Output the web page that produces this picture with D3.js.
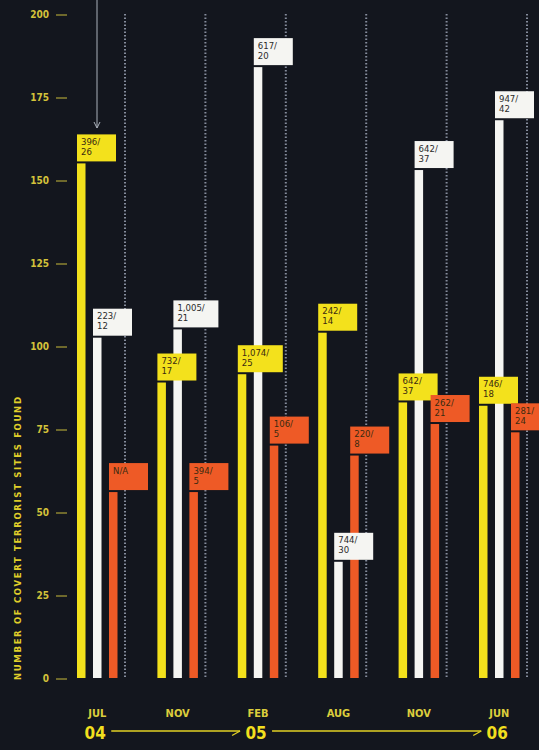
<!DOCTYPE html>
<html><head><meta charset="utf-8">
<script src="https://cdn.jsdelivr.net/npm/d3@7"></script>
<style>
html,body{margin:0;padding:0;background:#13161e;}
svg{display:block;}
text{font-family:"DejaVu Sans Condensed","DejaVu Sans","Liberation Sans",sans-serif;}
</style></head>
<body>
<svg id="c" width="539" height="750"></svg>
<script>
const months = ["JUL","NOV","FEB","AUG","NOV","JUN"];
const years = [{i:0,label:"04"},{i:2,label:"05"},{i:5,label:"06"}];
const yellowValues = [155, 89, 91.5, 104, 83, 82];
const whiteValues  = [102.5, 105, 184, 35, 153, 168];
const orangeValues = [56, 56, 70, 67, 76.5, 74];
const yellowLabels = ["396/26","732/17","1,074/25","242/14","642/37","746/18"];
const whiteLabels  = ["223/12","1,005/21","617/20","744/30","642/37","947/42"];
const orangeLabels = ["N/A","394/5","106/5","220/8","262/21","281/24"];
const yTicks = [0,25,50,75,100,125,150,175,200];
const yTitle = "NUMBER OF COVERT TERRORIST SITES FOUND";

const colors = {yellow:"#f3e11c", white:"#f5f5f2", orange:"#ee5a26"};
const series = [
  {key:"yellow", values:yellowValues, labels:yellowLabels},
  {key:"white", values:whiteValues, labels:whiteLabels},
  {key:"orange", values:orangeValues, labels:orangeLabels}
];

const svg = d3.select("#c");
const y = d3.scaleLinear().domain([0,200]).range([678,14]);
const x = d3.scaleBand().domain(d3.range(months.length)).range([77, 77+6*80.4]).padding(0);
const xs = d3.scaleBand().domain(series.map(s=>s.key)).range([0,48]).padding(0);
const barW = 8.5;

// y axis ticks
const yt = svg.append("g");
yt.selectAll("text").data(yTicks).join("text")
  .attr("x",49).attr("y",d=>y(d)+3.5).attr("text-anchor","end")
  .attr("font-size",10).attr("font-weight","bold").attr("fill","#d3c23a").text(d=>d);
yt.selectAll("line").data(yTicks).join("line")
  .attr("x1",56).attr("x2",67).attr("y1",d=>y(d)+1).attr("y2",d=>y(d)+1)
  .attr("stroke","#c9bb3a").attr("stroke-width",1);

// y title
svg.append("text").attr("transform","translate(21,680) rotate(-90)")
  .attr("font-size",9.5).attr("font-weight","bold").attr("fill","#e0cf2a")
  .attr("textLength",283).attr("lengthAdjust","spacing").text(yTitle);

// dotted separators
svg.append("g").selectAll("line").data(d3.range(months.length)).join("line")
  .attr("x1",i=>x(i)+48).attr("x2",i=>x(i)+48).attr("y1",14).attr("y2",678)
  .attr("stroke","#858c9c").attr("stroke-width",2).attr("stroke-dasharray","1.5,2");

// bars
const bars = svg.append("g");
series.forEach(s=>{
  bars.selectAll(null).data(s.values).join("rect")
    .attr("x",(d,i)=>x(i)+xs(s.key)).attr("width",barW)
    .attr("y",d=>y(d)).attr("height",d=>y(0)-y(d)).attr("fill",colors[s.key]);
});

// label boxes
const lab = svg.append("g");
series.forEach(s=>{
  s.values.forEach((v,i)=>{
    const g = lab.append("g").attr("transform",`translate(${x(i)+xs(s.key)},${y(v)-29})`);
    const t = s.labels[i];
    const parts = /^\d/.test(t) ? [t.split("/")[0]+"/", t.split("/")[1]] : [t];
    const w = t.length>6 ? 45 : 39;
    g.append("rect").attr("width",w).attr("height",27).attr("fill",colors[s.key]);
    parts.forEach((p,k)=>{
      g.append("text").attr("x",4).attr("y",10.5+k*10).attr("font-size",9.5)
        .attr("fill", s.key==="white" ? "#2a2a2a" : "#3a2a10").text(p);
    });
  });
});

// top arrow
svg.append("line").attr("x1",97).attr("x2",97).attr("y1",0).attr("y2",128)
  .attr("stroke","#aab0ba").attr("stroke-width",1);
svg.append("path").attr("d","M94,122 L97,128 L100,122").attr("fill","none")
  .attr("stroke","#aab0ba").attr("stroke-width",1);

// month labels
svg.append("g").selectAll("text").data(months).join("text")
  .attr("x",(d,i)=>x(i)+xs("white")+barW/2).attr("y",717).attr("text-anchor","middle")
  .attr("font-size",11).attr("font-weight","bold").attr("fill","#dccd3c").text(d=>d);

// year labels
svg.append("g").selectAll("text").data(years).join("text")
  .attr("x",d=>x(d.i)+xs("white")+barW/2-2).attr("y",739).attr("text-anchor","middle")
  .attr("font-size",17).attr("font-weight","bold").attr("fill","#f1df1e").text(d=>d.label);

// year arrows
const yr = svg.append("g").attr("stroke","#e3d225").attr("stroke-width",1.3).attr("fill","none");
for(let k=0;k<years.length-1;k++){
  const x0 = x(years[k].i)+xs("white")+barW/2+14;
  const x1 = x(years[k+1].i)+xs("white")+barW/2-18;
  yr.append("line").attr("x1",x0).attr("x2",x1).attr("y1",731).attr("y2",731);
  yr.append("line").attr("x1",x1).attr("x2",x1-8).attr("y1",731).attr("y2",735.5);
}
</script>
</body></html>
